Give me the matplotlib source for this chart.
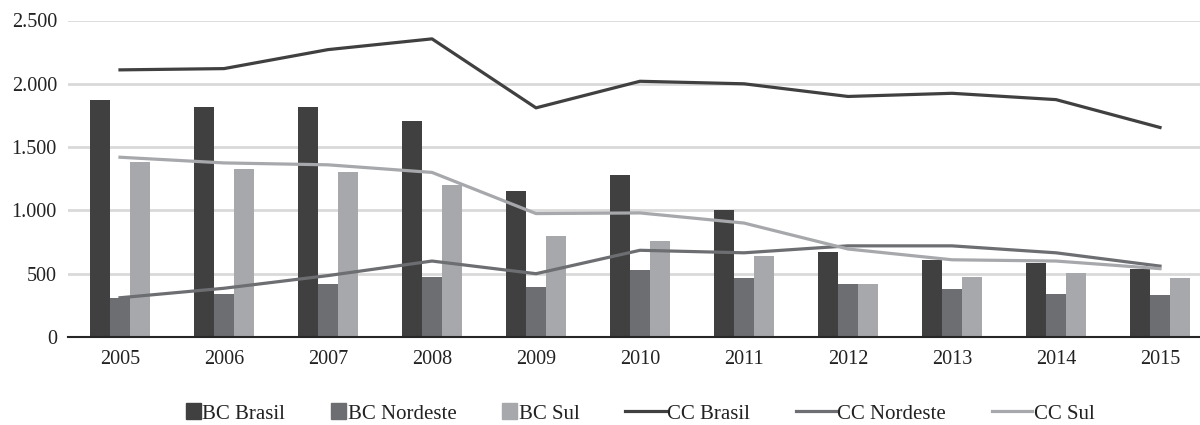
import matplotlib.pyplot as plt
import numpy as np
from matplotlib import font_manager
from matplotlib.ticker import FuncFormatter
from matplotlib.offsetbox import AnchoredOffsetbox, DrawingArea, HPacker, TextArea
from matplotlib.patches import Rectangle
from matplotlib.lines import Line2D

anos = ["2005", "2006", "2007", "2008", "2009", "2010", "2011", "2012", "2013", "2014", "2015"]

bc_brasil = [1870, 1820, 1820, 1710, 1155, 1280, 1005, 675, 610, 585, 540]
bc_nordeste = [310, 340, 420, 475, 395, 530, 465, 420, 380, 340, 330]
bc_sul = [1380, 1330, 1305, 1200, 800, 760, 640, 420, 475, 505, 465]

cc_brasil = [2110, 2120, 2270, 2355, 1810, 2020, 2000, 1900, 1925, 1875, 1655]
cc_nordeste = [310, 385, 485, 600, 500, 685, 665, 720, 720, 665, 560]
cc_sul = [1420, 1375, 1360, 1300, 975, 980, 900, 695, 610, 600, 540]

escuro = "#404040"
medio = "#6d6e71"
claro = "#a7a8ab"

# fonte com serifa (tipo Times)
nomes = {f.name for f in font_manager.fontManager.ttflist}
serifas = [n for n in ["Liberation Serif", "Times New Roman", "Nimbus Roman", "DejaVu Serif"] if n in nomes]
plt.rcParams["font.family"] = "serif"
plt.rcParams["font.serif"] = serifas + ["DejaVu Serif"]

fig = plt.figure(figsize=(12, 4.25), dpi=100)
ax = fig.add_axes([68 / 1200, 1 - 337 / 425, 1144 / 1200, 316.5 / 425])

x = np.arange(len(anos))
w = 0.192

ax.bar(x - w, bc_brasil, w, color=escuro, zorder=2)
ax.bar(x, bc_nordeste, w, color=medio, zorder=2)
ax.bar(x + w, bc_sul, w, color=claro, zorder=2)

ax.plot(x, cc_brasil, color=escuro, lw=2.3, zorder=3)
ax.plot(x, cc_nordeste, color=medio, lw=2.3, zorder=3)
ax.plot(x, cc_sul, color=claro, lw=2.3, zorder=3)

ax.set_xlim(-0.5, len(anos) - 0.5)
ax.set_ylim(0, 2500)
ax.set_yticks(np.arange(0, 2501, 500))
ax.yaxis.set_major_formatter(FuncFormatter(lambda v, p: f"{int(v):,}".replace(",", ".")))
ax.set_xticks(x)
ax.set_xticklabels(anos)

ax.grid(axis="y", color="#d9d9d9", lw=2, zorder=0)
ax.set_axisbelow(True)
for s in ["top", "right", "left"]:
    ax.spines[s].set_visible(False)
ax.spines["bottom"].set_color("#262626")
ax.spines["bottom"].set_linewidth(1.5)
ax.spines["bottom"].set_zorder(4)
ax.tick_params(axis="both", length=0, labelsize=14.5, colors="#222222")
ax.tick_params(axis="x", pad=9)
ax.tick_params(axis="y", pad=8)

# legenda montada à mão: quadrado para barras, traço para linhas
itens = [("BC Brasil", escuro, "bar"), ("BC Nordeste", medio, "bar"), ("BC Sul", claro, "bar"),
         ("CC Brasil", escuro, "line"), ("CC Nordeste", medio, "line"), ("CC Sul", claro, "line")]
caixas = []
for rotulo, cor, tipo in itens:
    if tipo == "bar":
        da = DrawingArea(11, 14, 0, 0)
        da.add_artist(Rectangle((0, 0), 11, 12, color=cor))
    else:
        da = DrawingArea(29, 14, 0, 0)
        da.add_artist(Line2D([0, 29], [6, 6], color=cor, lw=2.3))
    ta = TextArea(rotulo, textprops=dict(size=15, color="#222222"))
    caixas.append(HPacker(children=[da, ta], pad=0, sep=1, align="baseline"))
leg = HPacker(children=caixas, pad=0, sep=33, align="baseline")
ax.add_artist(AnchoredOffsetbox(loc="center", child=leg, frameon=False, pad=0,
                                bbox_to_anchor=(0.5, -0.237), bbox_transform=ax.transAxes))

fig.savefig("out.png", dpi=100)
